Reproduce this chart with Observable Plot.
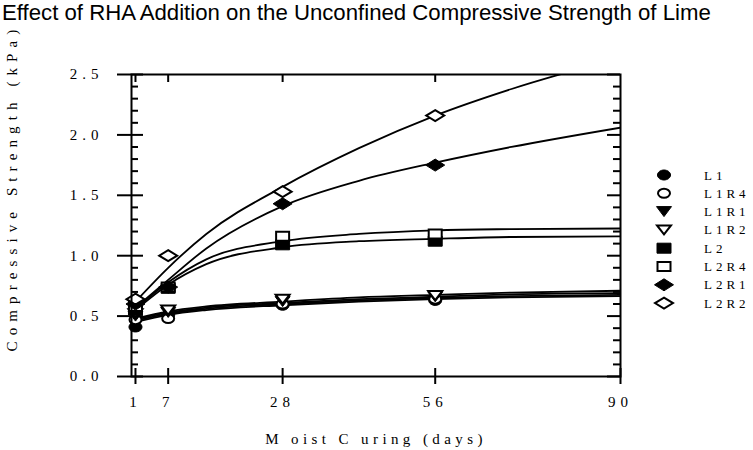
<!DOCTYPE html>
<html><head><meta charset="utf-8">
<script src="https://cdn.jsdelivr.net/npm/d3@7"></script>
<script src="https://cdn.jsdelivr.net/npm/@observablehq/plot@0.6"></script>
<style>
body{margin:0;background:#fff;}
#wrap{position:relative;width:753px;height:450px;overflow:hidden;background:#fff;}
#title{position:absolute;z-index:2;left:2px;top:1px;font-family:"Liberation Sans",Arial,sans-serif;font-size:22.2px;line-height:24px;white-space:nowrap;color:#000;}
</style></head>
<body><div id="wrap"><div id="title">Effect of RHA Addition on the Unconfined Compressive Strength of Lime</div></div>
<script>
// ---- data ----
const days = [1, 7, 28, 56];
const series = ["L1", "L1R4", "L1R1", "L1R2", "L2", "L2R4", "L2R1", "L2R2"];
const openSeries = ["L1R4", "L1R2", "L2R4", "L2R2"];
// measured strengths (kPa) at days 1, 7, 28, 56
const L1   = [0.41, 0.51, 0.59, 0.63];
const L1R4 = [0.47, 0.48, 0.60, 0.64];
const L1R1 = [0.50, 0.53, 0.62, 0.66];
const L1R2 = [0.52, 0.55, 0.64, 0.67];
const L2   = [0.55, 0.73, 1.09, 1.12];
const L2R4 = [0.58, 0.74, 1.16, 1.18];
const L2R1 = [0.60, 0.74, 1.43, 1.75];
const L2R2 = [0.64, 1.00, 1.53, 2.16];
// fitted curves
const fitDays  = [1, 7, 14, 28, 42, 56, 70, 90];
const fitL1    = [0.45, 0.51, 0.55, 0.59, 0.62, 0.64, 0.655, 0.665];
const fitL1R4  = [0.46, 0.52, 0.56, 0.60, 0.63, 0.65, 0.665, 0.675];
const fitL1R1  = [0.47, 0.53, 0.57, 0.61, 0.64, 0.66, 0.68, 0.69];
const fitL1R2  = [0.48, 0.54, 0.58, 0.62, 0.655, 0.675, 0.695, 0.71];
const fitL2    = [0.55, 0.76, 0.93, 1.07, 1.12, 1.14, 1.155, 1.16];
const fitL2R4  = [0.56, 0.78, 0.97, 1.12, 1.18, 1.21, 1.22, 1.225];
const fitL2R1  = [0.57, 0.80, 1.06, 1.41, 1.62, 1.77, 1.90, 2.06];
const fitL2R2  = [0.62, 0.90, 1.18, 1.57, 1.89, 2.16, 2.38, 2.64];
const xTicks = [1, 7, 28, 56, 90];
const yTicks = [0, 0.5, 1.0, 1.5, 2.0, 2.5];
const yMinor = d3.range(0, 26).map(i => i / 10).filter(v => Math.round(v * 10) % 5 !== 0);
const xLabel = "M oist C uring (days)";
const yLabel = "Compressive Strength (kPa)";

const values = [L1, L1R4, L1R1, L1R2, L2, L2R4, L2R1, L2R2];
const fits = [fitL1, fitL1R4, fitL1R1, fitL1R2, fitL2, fitL2R4, fitL2R1, fitL2R2];

// ---- symbols (wide glyphs) ----
function ellipseSym(w, h) { return {draw(c) { const rx = w/2, ry = h/2, k = 0.5523;
  c.moveTo(rx, 0); c.bezierCurveTo(rx, ry*k, rx*k, ry, 0, ry); c.bezierCurveTo(-rx*k, ry, -rx, ry*k, -rx, 0);
  c.bezierCurveTo(-rx, -ry*k, -rx*k, -ry, 0, -ry); c.bezierCurveTo(rx*k, -ry, rx, -ry*k, rx, 0); c.closePath(); }}; }
function rectSym(w, h) { return {draw(c) { c.moveTo(-w/2, -h/2); c.lineTo(w/2, -h/2); c.lineTo(w/2, h/2); c.lineTo(-w/2, h/2); c.closePath(); }}; }
function triSym(w, h) { return {draw(c) { c.moveTo(-w/2, -h/2); c.lineTo(w/2, -h/2); c.lineTo(0, h/2); c.closePath(); }}; }
function diaSym(w, h) { return {draw(c) { c.moveTo(0, -h/2); c.lineTo(w/2, 0); c.lineTo(0, h/2); c.lineTo(-w/2, 0); c.closePath(); }}; }
const symbols = [ellipseSym(13, 10), ellipseSym(12, 9), triSym(15, 10), triSym(14, 9),
                 rectSym(14, 10), rectSym(13, 9), diaSym(19, 12), diaSym(18, 11)];

const W = 753, H = 450, mL = 131, mR = 133, mT = 74, mB = 74;
const pw = W - mL - mR, ph = H - mT - mB;

const marks = [];
series.forEach((s, i) => {
  marks.push(Plot.line(fitDays.map((d, j) => ({day: d, v: fits[i][j]})),
    {x: "day", y: "v", curve: "monotone-x", stroke: "black", strokeWidth: 1.8, clip: true}));
});
series.forEach((s, i) => {
  const open = openSeries.includes(s);
  marks.push(Plot.dot(days.map((d, j) => ({day: d, v: values[i][j]})),
    {x: "day", y: "v", symbol: symbols[i], r: 5, fill: open ? "white" : "black", stroke: "black", strokeWidth: open ? 2 : 1}));
});
marks.push(
  Plot.frame({stroke: "black", strokeWidth: 2}),
  Plot.tickY(yTicks, {y: d => d, insetLeft: -14, insetRight: pw - 12, strokeWidth: 2}),
  Plot.tickY(yMinor, {y: d => d, insetRight: pw - 7, strokeWidth: 2}),
  Plot.tickY(yTicks, {y: d => d, insetLeft: pw - 13, strokeWidth: 2}),
  Plot.tickY(yMinor, {y: d => d, insetLeft: pw - 7, strokeWidth: 2}),
  Plot.tickX([1, 7, 28, 56], {x: d => d, insetBottom: ph - 8, strokeWidth: 2}),
  Plot.tickX(xTicks, {x: d => d, insetTop: ph - 8, insetBottom: -8, strokeWidth: 2}),
  Plot.axisY(yTicks, {tickSize: 0, tickPadding: 28, tickFormat: d => d.toFixed(1), label: null, fontSize: 15}),
  Plot.axisX(xTicks, {tickSize: 0, tickPadding: 20, tickFormat: d => String(d), label: null, fontSize: 15}),
  Plot.text([xLabel], {text: d => d, frameAnchor: "bottom", textAnchor: "middle", lineAnchor: "bottom", dy: 67, fontSize: 15}),
  Plot.text([yLabel], {text: d => d, frameAnchor: "left", textAnchor: "middle", rotate: -90, lineAnchor: "bottom", dx: -115, dy: -38, fontSize: 15})
);

const chart = Plot.plot({
  width: W, height: H,
  marginLeft: mL, marginRight: mR, marginTop: mT, marginBottom: mB,
  x: {domain: [0.27, 90]},
  y: {domain: [0, 2.5]},
  style: {fontFamily: '"Liberation Serif", "Times New Roman", serif', fontSize: "15px", background: "white", color: "black", overflow: "visible"},
  marks
});

const svg = d3.select(chart);
// letter spacing as in the reference
svg.selectAll("text").each(function() {
  const t = this.textContent;
  if (t === xLabel) d3.select(this).style("letter-spacing", "4.4px").style("font-size", "15px");
  else if (t === yLabel) d3.select(this).style("letter-spacing", "6.1px").style("font-size", "15px");
  else if (/^[0-9.]+$/.test(t)) d3.select(this).style("letter-spacing", "5px");
});

// legend
const lg = svg.append("g").attr("font-size", 13).attr("text-anchor", "start");
series.forEach((s, i) => {
  const y = 175 + i * 18.3;
  const open = openSeries.includes(s);
  lg.append("path").attr("transform", `translate(664,${y})`).attr("d", d3.symbol(symbols[i])())
    .attr("fill", open ? "white" : "black").attr("stroke", "black").attr("stroke-width", open ? 2 : 1);
  lg.append("text").attr("x", 704).attr("y", y).attr("dy", "0.35em").style("letter-spacing", "4px").text(s);
});

document.getElementById("wrap").appendChild(chart);
</script>
</body></html>
